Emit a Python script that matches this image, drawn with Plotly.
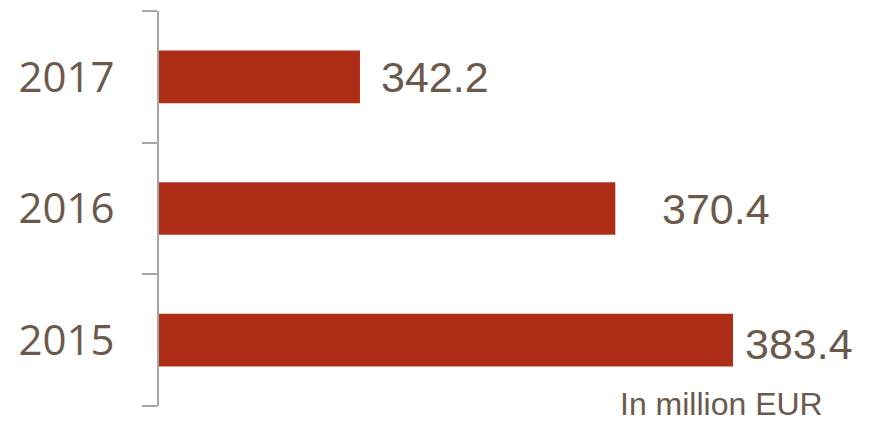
import plotly.graph_objects as go

# Annual amounts, in million EUR
years = ["2015", "2016", "2017"]
values = [383.4, 370.4, 342.2]
# horizontal nudge (px) of each value label from its bar end
label_shift = [10, 45, 19]
label_yshift = [-4, 0, 0]

BAR = "#ae2d17"
TEXT = "#6b5a4c"
AXIS = "#a6a6a6"

fig = go.Figure(
    go.Bar(
        x=values,
        y=years,
        orientation="h",
        marker=dict(color=BAR, line=dict(width=0)),
        hoverinfo="skip",
    )
)

for i, (v, dx, dy) in enumerate(zip(values, label_shift, label_yshift)):
    fig.add_annotation(
        x=v, y=i, xref="x", yref="y",
        text=f"{v:.1f}", showarrow=False,
        xanchor="left", yanchor="middle",
        xshift=dx, yshift=dy,
        font=dict(family="Liberation Sans, Arial, sans-serif", size=43, color=TEXT),
    )

fig.add_annotation(
    x=0.828, y=0.0, xref="paper", yref="paper",
    text="In million EUR", showarrow=False,
    xanchor="center", yanchor="middle", yshift=2,
    font=dict(family="Liberation Sans, Arial, sans-serif", size=32, color=TEXT),
)

fig.update_layout(
    width=870, height=422,
    margin=dict(l=159, r=32, t=11, b=16),
    plot_bgcolor="white", paper_bgcolor="white",
    bargap=0.6,
    showlegend=False,
    xaxis=dict(
        range=[320, 395], visible=False, fixedrange=True,
    ),
    yaxis=dict(
        type="category",
        showline=True, linecolor=AXIS, linewidth=2,
        ticks="outside", tickson="boundaries", ticklen=15,
        tickcolor=AXIS, tickwidth=2,
        ticklabelstandoff=34,
        showgrid=False, zeroline=False,
        tickfont=dict(family="Open Sans, sans-serif", size=42, color=TEXT),
    ),
)

fig.write_html("out.html")
